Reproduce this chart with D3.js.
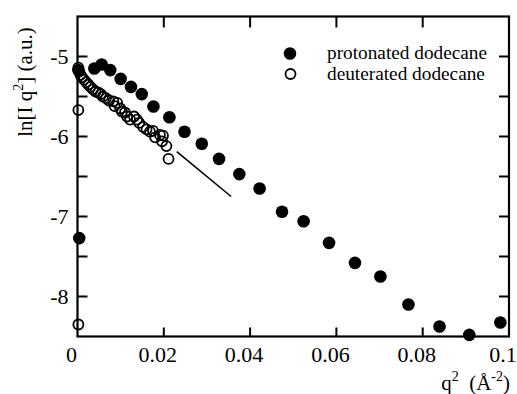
<!DOCTYPE html>
<html>
<head>
<meta charset="utf-8">
<script src="https://cdn.jsdelivr.net/npm/d3@7"></script>
<style>
  body { margin: 0; background: #fff; }
</style>
</head>
<body>
<div id="chart"></div>
<script>
// protonated dodecane (filled circles)
var protQ2 = [0.0002, 0.0004, 0.0039, 0.0056, 0.0076, 0.0100, 0.0124, 0.0149, 0.0176, 0.0213,
              0.0248, 0.0288, 0.0328, 0.0375, 0.0422, 0.0474, 0.0524, 0.0583, 0.0643, 0.0702,
              0.0767, 0.0839, 0.0908, 0.0980];
var protLn = [-5.17, -7.27, -5.15, -5.10, -5.17, -5.28, -5.38, -5.47, -5.625, -5.76,
              -5.94, -6.09, -6.28, -6.47, -6.65, -6.94, -7.06, -7.33, -7.58, -7.75,
              -8.10, -8.375, -8.48, -8.325];

// deuterated dodecane (open circles)
var deutQ2 = [0.0002, 0.0002, 0.0002, 0.0004, 0.0007, 0.0011, 0.0015, 0.0020, 0.0025, 0.0030,
              0.0036, 0.0042, 0.0048, 0.0054, 0.0059, 0.0066, 0.0073, 0.0083, 0.0086, 0.0092,
              0.0099, 0.0103, 0.0110, 0.0115, 0.0122, 0.0131, 0.0138, 0.0143, 0.0152, 0.0160,
              0.0168, 0.0175, 0.0180, 0.0191, 0.0198, 0.0196, 0.0206, 0.0211];
var deutLn = [-5.14, -5.67, -8.35, -5.19, -5.23, -5.26, -5.29, -5.32, -5.35, -5.38,
              -5.41, -5.44, -5.45, -5.47, -5.50, -5.52, -5.55, -5.56, -5.62, -5.58,
              -5.65, -5.69, -5.70, -5.75, -5.79, -5.75, -5.79, -5.83, -5.88, -5.91,
              -5.94, -5.93, -6.01, -5.98, -5.99, -6.06, -6.12, -6.28];

// straight guide line
var fitQ2 = [0.0230, 0.0356];
var fitLn = [-6.19, -6.75];

var xTicks = [0, 0.02, 0.04, 0.06, 0.08, 0.1];
var xTickLabels = ['0', '0.02', '0.04', '0.06', '0.08', '0.1'];
var yTicks = [-8.5, -8, -7.5, -7, -6.5, -6, -5.5, -5, -4.5];
var yTickLabels = [-8, -7, -6, -5];

var legendNames = ['protonated dodecane', 'deuterated dodecane'];

var W = 517, H = 394;
var margin = {top: 16.5, right: 8, bottom: 57.5, left: 77.5};
var width = W - margin.left - margin.right,
    height = H - margin.top - margin.bottom;
var serif = '"Liberation Serif", "Times New Roman", Times, serif';

var svg = d3.select('#chart').append('svg')
    .attr('width', W)
    .attr('height', H)
    .attr('font-family', serif);

var g = svg.append('g')
    .attr('transform', 'translate(' + margin.left + ',' + margin.top + ')');

var x = d3.scaleLinear().domain([0, 0.1]).range([0, width]);
var y = d3.scaleLinear().domain([-8.5, -4.5]).range([height, 0]);

// frame
g.append('rect')
    .attr('width', width).attr('height', height)
    .attr('fill', 'none').attr('stroke', '#000').attr('stroke-width', 2.2);

// x ticks, bottom (inward) and top (inward)
var xIn = xTicks.slice(1, -1);
g.selectAll('.xtb').data(xIn).enter().append('line')
    .attr('x1', function(d){ return x(d); }).attr('x2', function(d){ return x(d); })
    .attr('y1', height).attr('y2', height - 9)
    .attr('stroke', '#000').attr('stroke-width', 2);
g.selectAll('.xtt').data(xIn).enter().append('line')
    .attr('x1', function(d){ return x(d); }).attr('x2', function(d){ return x(d); })
    .attr('y1', 0).attr('y2', 11)
    .attr('stroke', '#000').attr('stroke-width', 2);

// y ticks, left and right (inward)
var yIn = yTicks.slice(1, -1);
g.selectAll('.ytl').data(yIn).enter().append('line')
    .attr('x1', 0).attr('x2', 10)
    .attr('y1', function(d){ return y(d); }).attr('y2', function(d){ return y(d); })
    .attr('stroke', '#000').attr('stroke-width', 2);
g.selectAll('.ytr').data(yIn).enter().append('line')
    .attr('x1', width).attr('x2', width - 10)
    .attr('y1', function(d){ return y(d); }).attr('y2', function(d){ return y(d); })
    .attr('stroke', '#000').attr('stroke-width', 2);

// tick labels
g.selectAll('.xl').data(xTicks).enter().append('text')
    .attr('x', function(d){ return x(d) - 6; })
    .attr('y', height + 25)
    .attr('text-anchor', 'middle')
    .attr('font-size', 22)
    .text(function(d, i){ return xTickLabels[i]; });

g.selectAll('.yl').data(yTickLabels).enter().append('text')
    .attr('x', -9)
    .attr('y', function(d){ return y(d); })
    .attr('dy', '0.33em')
    .attr('text-anchor', 'end')
    .attr('font-size', 22)
    .text(function(d){ return d; });

// axis titles
var xt = svg.append('text')
    .attr('x', 510).attr('y', 390)
    .attr('text-anchor', 'end')
    .attr('xml:space', 'preserve')
    .attr('font-size', 21);
xt.append('tspan').text('q');
xt.append('tspan').attr('dy', -9).attr('font-size', 14).text('2');
xt.append('tspan').attr('dy', 9).text('  (Å');
xt.append('tspan').attr('dy', -9).attr('font-size', 14).text('-2');
xt.append('tspan').attr('dy', 9).text(')');

var yt = svg.append('text')
    .attr('transform', 'translate(32,82) rotate(-90)')
    .attr('text-anchor', 'middle')
    .attr('font-size', 21);
yt.append('tspan').text('ln[I q');
yt.append('tspan').attr('dy', -9).attr('font-size', 14).text('2');
yt.append('tspan').attr('dy', 9).text('] (a.u.)');

// guide line
var line = d3.line()
    .x(function(d){ return x(d[0]); })
    .y(function(d){ return y(d[1]); });
g.append('path')
    .datum(d3.zip(fitQ2, fitLn))
    .attr('d', line)
    .attr('fill', 'none').attr('stroke', '#000').attr('stroke-width', 1.6);

// open circles
g.selectAll('.deut').data(d3.zip(deutQ2, deutLn)).enter().append('circle')
    .attr('cx', function(d){ return x(d[0]); })
    .attr('cy', function(d){ return y(d[1]); })
    .attr('r', 5)
    .attr('fill', 'none').attr('stroke', '#000').attr('stroke-width', 1.8);

// filled circles
g.selectAll('.prot').data(d3.zip(protQ2, protLn)).enter().append('circle')
    .attr('cx', function(d){ return x(d[0]); })
    .attr('cy', function(d){ return y(d[1]); })
    .attr('r', 6.3)
    .attr('fill', '#000');

// legend
var legend = svg.append('g');
legend.append('circle').attr('cx', 290).attr('cy', 53.5).attr('r', 6.3).attr('fill', '#000');
legend.append('circle').attr('cx', 290.5).attr('cy', 74).attr('r', 5)
    .attr('fill', 'none').attr('stroke', '#000').attr('stroke-width', 1.8);
legend.selectAll('.lt').data(legendNames).enter().append('text')
    .attr('x', 327)
    .attr('y', function(d, i){ return 59 + i * 20.5; })
    .attr('font-size', 19.3)
    .text(function(d){ return d; });
</script>
</body>
</html>
